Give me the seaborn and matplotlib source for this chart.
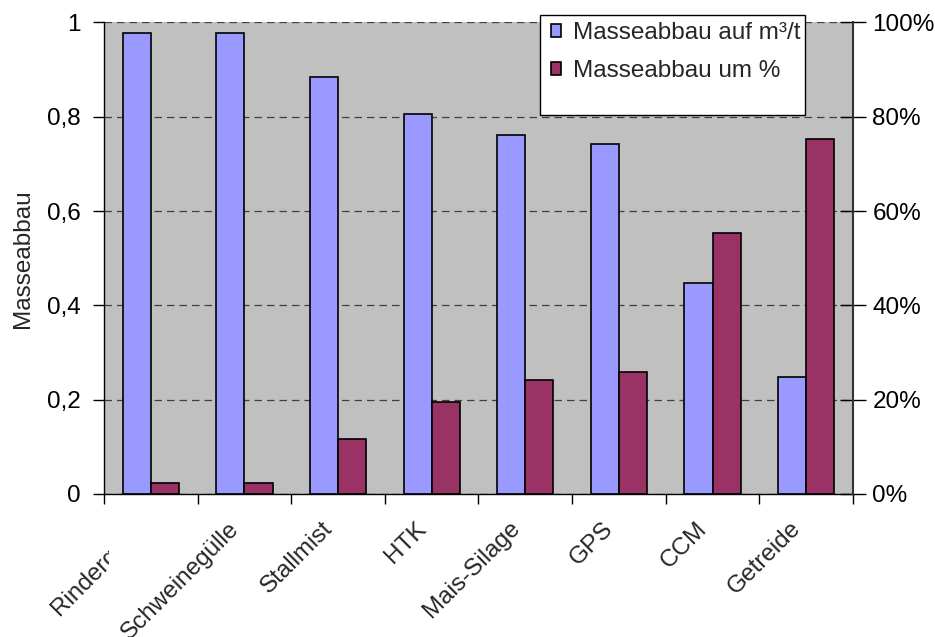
import matplotlib
matplotlib.use("Agg")
import matplotlib.pyplot as plt
import numpy as np
import pandas as pd
import seaborn as sns
from matplotlib.patches import Rectangle
from matplotlib.transforms import Bbox, TransformedBbox, ScaledTranslation

# ---------------- data ----------------
categories = ["Rindergülle", "Schweinegülle", "Stallmist", "HTK",
              "Mais-Silage", "GPS", "CCM", "Getreide"]
abbau_m3t = [0.977, 0.977, 0.885, 0.806, 0.761, 0.743, 0.447, 0.248]
abbau_pct = [2.3, 2.3, 11.6, 19.5, 24.1, 25.8, 55.3, 75.3]
series_names = ["Masseabbau auf m³/t", "Masseabbau um %"]
y_ticks = [0, 0.2, 0.4, 0.6, 0.8, 1.0]
y_tick_labels = ["0", "0,2", "0,4", "0,6", "0,8", "1"]
pct_ticks = [0, 20, 40, 60, 80, 100]
pct_tick_labels = ["0%", "20%", "40%", "60%", "80%", "100%"]
y_label = "Masseabbau"

# ---------------- style ----------------
sns.set_style("white")
plt.rcParams["font.family"] = ["Liberation Sans", "DejaVu Sans"]
FS = 17.5
W, H = 935, 637

df = pd.DataFrame({
    "Kategorie": categories * 2,
    "Serie": [series_names[0]] * len(categories) + [series_names[1]] * len(categories),
    # the % series shares the 0..1 scale; the right axis shows it as 0..100 %
    "Wert": abbau_m3t + [p / 100 for p in abbau_pct],
})

fig = plt.figure(figsize=(W / 100, H / 100), dpi=100)
ax = fig.add_axes([104 / W, 1 - 494 / H, (853 - 104) / W, (494 - 22.4) / H])
ax.set_facecolor("#C0C0C0")

sns.barplot(data=df, x="Kategorie", y="Wert", hue="Serie",
            palette=["#9999FF", "#993366"], saturation=1, width=0.6,
            edgecolor="black", linewidth=1.2, ax=ax, legend=True)

handles, labels = ax.get_legend_handles_labels()
ax.get_legend().remove()

ax.set_xlim(-0.5, len(categories) - 0.5)
ax.set_ylim(0, 1)
ax.set_axisbelow(True)
ax.yaxis.grid(True, linestyle=(0, (6, 4)), color="#404040", linewidth=0.9)
ax.xaxis.grid(False)

for s in ["top", "right"]:
    ax.spines[s].set_visible(False)
for s in ["left", "bottom"]:
    ax.spines[s].set_color("black")
    ax.spines[s].set_linewidth(1.0)

ax.set_yticks(y_ticks, y_tick_labels)
ax.tick_params(axis="y", left=True, direction="out", length=8, width=1,
               pad=9, labelsize=FS, colors="black")

ax.set_xticks(range(len(categories)), categories)
ax.set_xticks(np.arange(-0.5, len(categories), 1.0), minor=True)
ax.tick_params(axis="x", which="major", bottom=True, length=0, pad=22.5, labelsize=FS)
ax.tick_params(axis="x", which="minor", bottom=True, direction="out", length=7, width=1, color="black")
shift = ScaledTranslation(-9 / 100, 0, fig.dpi_scale_trans)
for lbl in ax.get_xticklabels():
    lbl.set_rotation(45)
    lbl.set_ha("right")
    lbl.set_va("center")
    lbl.set_rotation_mode("anchor")
    lbl.set_transform(lbl.get_transform() + shift)
first = ax.get_xticklabels()[0]
first.set_clip_on(True)
first.set_clip_box(TransformedBbox(Bbox([[0, 0], [109 / W, 1]]), fig.transFigure))

ax.set_xlabel("")
ax.set_ylabel(y_label, fontsize=FS)
ax.yaxis.set_label_coords(-0.0935, 0.5)

# right axis
ax2 = ax.twinx()
ax2.set_ylim(0, 100)
ax2.set_yticks(pct_ticks, pct_tick_labels)
ax2.tick_params(axis="y", right=True, direction="inout", length=19, width=1,
                pad=4.5, labelsize=FS, colors="black")
ax2.grid(False)
for s in ["top", "left", "bottom"]:
    ax2.spines[s].set_visible(False)
ax2.spines["right"].set_color("#333333")
ax2.spines["right"].set_linewidth(1.5)

# legend box (Excel style, larger than its entries)
fig.add_artist(Rectangle((540 / W, 1 - 115 / H), 265 / W, 100 / H,
                         transform=fig.transFigure, facecolor="white",
                         edgecolor="black", linewidth=1.0, zorder=5))
leg = fig.legend(handles, labels, loc="upper left",
                 bbox_to_anchor=(551 / W, 1 - 22 / H), frameon=False,
                 fontsize=FS, handlelength=0.42, handleheight=0.42,
                 handletextpad=0.5, labelspacing=0.66, borderpad=0,
                 borderaxespad=0)
leg.set_zorder(6)

fig.savefig("out.png", dpi=100)
